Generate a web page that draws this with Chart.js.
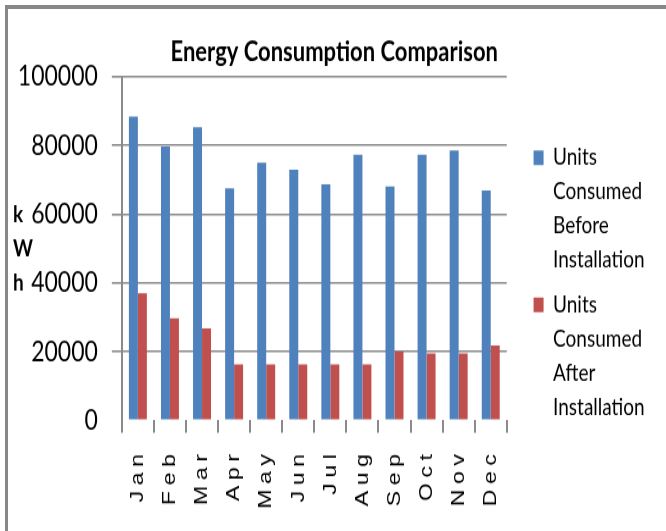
<!DOCTYPE html>
<html>
<head>
<meta charset="utf-8">
<script src="https://cdn.jsdelivr.net/npm/chart.js@4.4.0/dist/chart.umd.min.js"></script>
<style>
  body { margin: 0; background: #fff; }
  #wrap { position: relative; width: 666px; height: 531px; overflow: hidden; }
  #frame {
    position: absolute; left: 5px; top: 5px; right: 0; bottom: 0;
    border-top: 4px solid #878787; border-left: 3px solid #878787;
    pointer-events: none;
  }
</style>
</head>
<body>
<div id="wrap">
  <!-- drawn at 435px high, shown at 531px: the original picture is stretched vertically -->
  <canvas id="barChart" width="666" height="435" style="width:666px;height:531px"></canvas>
  <div id="frame"></div>
</div>
<script>
const months = ["Jan", "Feb", "Mar", "Apr", "May", "Jun", "Jul", "Aug", "Sep", "Oct", "Nov", "Dec"];
const unitsBefore = [88400, 79700, 85300, 67500, 75000, 72900, 68700, 77300, 68100, 77300, 78500, 66900];
const unitsAfter = [37000, 29700, 26800, 16300, 16300, 16300, 16300, 16300, 20000, 19500, 19500, 21800];
const beforeLabel = ["Units", "Consumed", "Before", "Installation"];
const afterLabel = ["Units", "Consumed", "After", "Installation"];
const yTicks = [0, 20000, 40000, 60000, 80000, 100000];
const axisLetters = ["k", "W", "h"];

const gridGrey = "#8a8a8a";

// legend sits lower and a bit to the right of where Chart.js puts it,
// title is a little right of centre
const shiftBoxes = {
  id: "shiftBoxes",
  afterLayout(chart) {
    const lg = chart.legend;
    lg.left += 18;
    lg.right += 18;
    lg.top += 111;
    lg.bottom += 111;
    chart.titleBlock.left += 28;
  },
};

// month labels are letter-spaced in the original
const spacedLabels = {
  id: "spacedLabels",
  afterLayout(chart) {
    const sc = chart.scales.x;
    if (sc._spaced) return;
    const draw = sc.drawLabels;
    sc.drawLabels = function (area) {
      this.ctx.save();
      this.ctx.letterSpacing = "4.5px";
      draw.call(this, area);
      this.ctx.restore();
    };
    sc._spaced = true;
  },
};

// "k W h" stacked, not rotated
const kwhTitle = {
  id: "kwhTitle",
  afterDraw(chart) {
    const { ctx } = chart;
    const y = chart.scales.y;
    const top = y.getPixelForValue(60000);
    const bot = y.getPixelForValue(40000);
    ctx.save();
    ctx.font = "bold 19px Lato";
    ctx.fillStyle = "#000";
    ctx.textAlign = "left";
    ctx.textBaseline = "middle";
    axisLetters.forEach((l, i) => {
      ctx.fillText(l, 13, top + ((bot - top) * i) / (axisLetters.length - 1));
    });
    ctx.restore();
  },
};

const ctx = document.getElementById("barChart");

new Chart(ctx, {
  type: "bar",
  data: {
    labels: months,
    datasets: [
      {
        label: beforeLabel,
        data: unitsBefore,
        backgroundColor: "#4f81bd",
        barPercentage: 1,
        categoryPercentage: 0.56,
      },
      {
        label: afterLabel,
        data: unitsAfter,
        backgroundColor: "#c0504d",
        barPercentage: 1,
        categoryPercentage: 0.56,
      },
    ],
  },
  options: {
    responsive: false,
    animation: false,
    layout: { padding: { left: 3.8, right: 29.3, top: 0, bottom: 18.7 } },
    plugins: {
      title: {
        display: true,
        text: "Energy Consumption Comparison",
        color: "#000",
        font: { family: "Lato", size: 22, weight: "bold", lineHeight: 24 / 22 },
        padding: { top: 31, bottom: 7.8 },
      },
      legend: {
        position: "right",
        align: "start",
        labels: {
          boxWidth: 10,
          boxHeight: 12,
          padding: 8.8,
          color: "#000",
          font: { family: "Lato", size: 19, lineHeight: 1.47 },
        },
      },
      tooltip: { enabled: false },
    },
    scales: {
      x: {
        border: { display: false },
        grid: {
          display: true,
          drawOnChartArea: false,
          drawTicks: true,
          offset: true,
          tickLength: 10,
          color: gridGrey,
          lineWidth: 2,
        },
        ticks: {
          autoSkip: false,
          minRotation: 90,
          maxRotation: 90,
          padding: 13,
          color: "#000",
          font: { family: "Liberation Sans", size: 19 },
        },
      },
      y: {
        min: 0,
        max: 100000,
        afterBuildTicks: (s) => {
          s.ticks = yTicks.map((v) => ({ value: v }));
        },
        border: { display: true, color: gridGrey, width: 2 },
        grid: {
          color: (c) => (c.tick && c.tick.value === 0 ? "rgba(0,0,0,0)" : gridGrey),
          lineWidth: 1.6,
          tickLength: 10,
        },
        ticks: {
          color: "#000",
          padding: 14,
          font: { family: "Lato", size: 23, lineHeight: 1.2 },
          callback: (v) => String(v),
        },
      },
    },
  },
  plugins: [shiftBoxes, spacedLabels, kwhTitle],
});
</script>
</body>
</html>
